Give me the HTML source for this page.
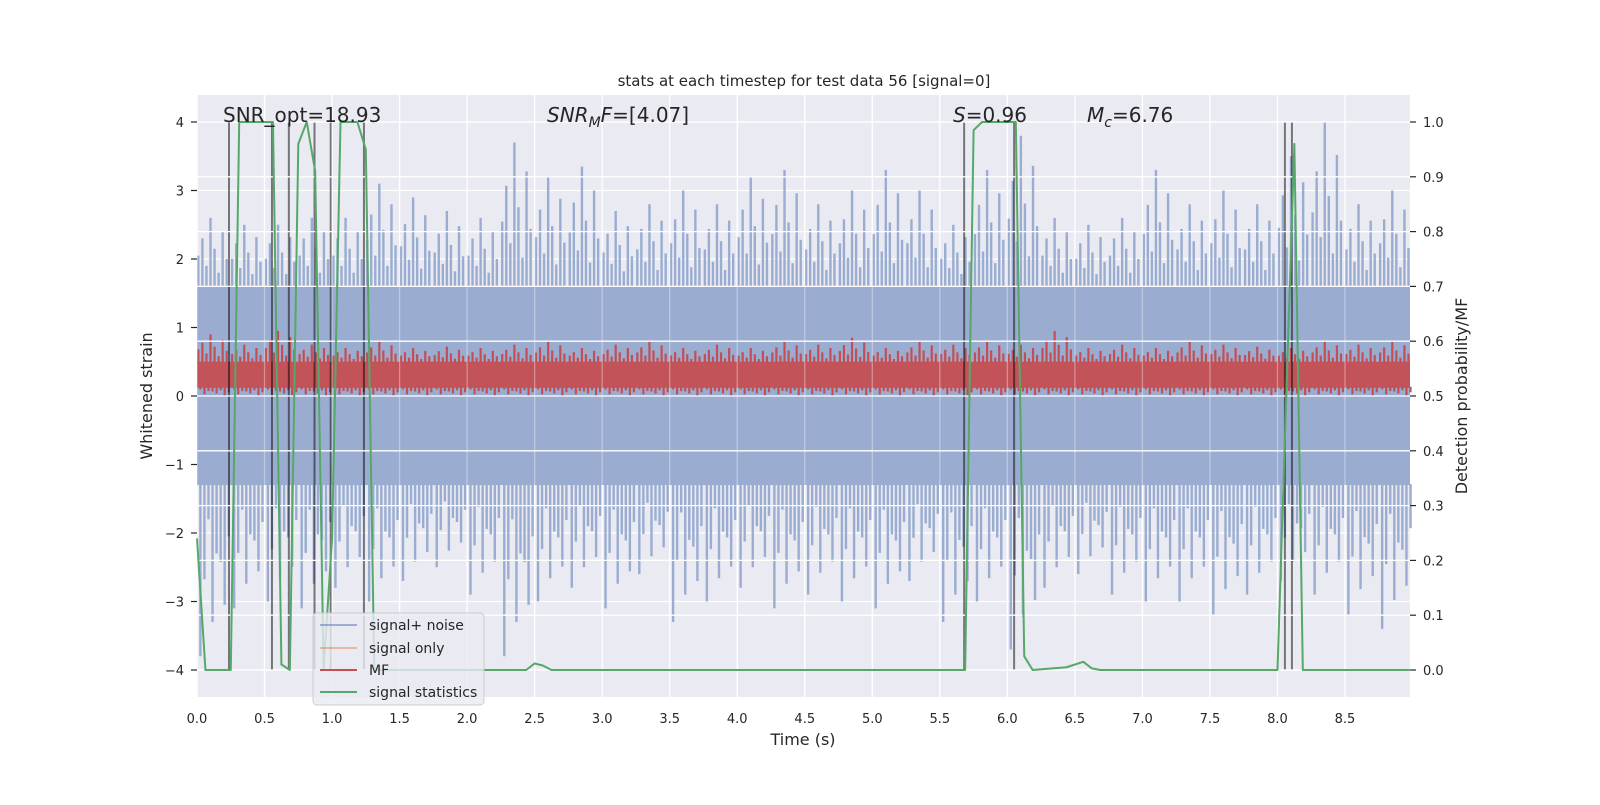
<!DOCTYPE html>
<html><head><meta charset="utf-8"><style>
body{margin:0;background:#fff;}
svg text{font-family:"DejaVu Sans","Liberation Sans",sans-serif;fill:#262626;}
</style></head><body>
<svg id="chart" width="1600" height="800" xmlns="http://www.w3.org/2000/svg">
<rect x="197" y="95" width="1213" height="602" fill="#eaeaf2"/>
<g id="gridL"></g>
<g id="noise"></g>
<g id="mf"></g>
<g id="vlines"></g>
<g id="gridR"></g>
<g id="stat"></g>
<g id="axes"></g>
<text x="804" y="86" font-size="15" text-anchor="middle">stats at each timestep for test data 56 [signal=0]</text>
<text x="223" y="122" font-size="20">SNR_opt=18.93</text>
<text x="547" y="122" font-size="20"><tspan font-style="italic">SNR</tspan><tspan font-style="italic" font-size="14" dy="5">M</tspan><tspan font-style="italic" dy="-5">F</tspan>=[4.07]</text>
<text x="953" y="122" font-size="20"><tspan font-style="italic">S</tspan>=0.96</text>
<text x="1087" y="122" font-size="20"><tspan font-style="italic">M</tspan><tspan font-style="italic" font-size="14" dy="5">c</tspan><tspan dy="-5">=6.76</tspan></text>
<text x="803" y="745" font-size="16" text-anchor="middle">Time (s)</text>
<text transform="translate(152,396) rotate(-90)" font-size="16" text-anchor="middle">Whitened strain</text>
<text transform="translate(1467,396) rotate(-90)" font-size="16" text-anchor="middle">Detection probability/MF</text>
<g>
<rect x="313" y="613" width="171" height="92" rx="4" fill="#eaeaf2" fill-opacity="0.8" stroke="#cccccc"/>
<line x1="320" y1="625" x2="357" y2="625" stroke="#4c72b0" stroke-opacity="0.5" stroke-width="2"/>
<text x="369" y="630" font-size="14">signal+ noise</text>
<line x1="320" y1="648" x2="357" y2="648" stroke="#dd8452" stroke-opacity="0.5" stroke-width="2"/>
<text x="369" y="653" font-size="14">signal only</text>
<line x1="320" y1="670" x2="357" y2="670" stroke="#c44e52" stroke-width="2"/>
<text x="369" y="675" font-size="14">MF</text>
<line x1="320" y1="692" x2="357" y2="692" stroke="#55a868" stroke-width="2"/>
<text x="369" y="697" font-size="14">signal statistics</text>
</g>
</svg>
<script>
const xTicks=[0,0.5,1,1.5,2,2.5,3,3.5,4,4.5,5,5.5,6,6.5,7,7.5,8,8.5];
const yTicks=[-4,-3,-2,-1,0,1,2,3,4];
const y2Ticks=[0,0.1,0.2,0.3,0.4,0.5,0.6,0.7,0.8,0.9,1.0];
const binStart=[0,0.25,0.5,0.75,1,1.25,1.5,1.75,2,2.25,2.5,2.75,3,3.25,3.5,3.75,4,4.25,4.5,4.75,5,5.25,5.5,5.75,6,6.25,6.5,6.75,7,7.25,7.5,7.75,8,8.25,8.5,8.75];
const noiseMax=[2.6,2.5,2.5,2.6,2.6,3.1,2.9,2.7,2.6,3.7,3.2,3.35,2.7,2.8,3.0,2.8,3.2,3.3,2.8,3.0,3.3,3.0,2.5,3.3,3.8,2.6,2.5,2.6,3.3,2.8,3.0,2.8,3.5,4.0,2.8,3.0];
const noiseMin=[-3.8,-3.1,-3.0,-3.1,-2.8,-3.0,-2.7,-2.5,-2.9,-3.8,-3.0,-2.8,-3.1,-2.6,-3.3,-3.0,-2.8,-3.1,-2.9,-3.0,-3.1,-2.7,-3.3,-3.0,-3.7,-2.8,-2.6,-2.9,-3.0,-3.0,-3.2,-2.9,-2.7,-2.9,-3.2,-3.4];
const mfMax=[0.9,0.75,0.95,0.75,0.7,0.8,0.7,0.72,0.7,0.75,0.8,0.7,0.75,0.8,0.7,0.75,0.7,0.8,0.75,0.85,0.7,0.8,0.75,0.8,0.75,0.95,0.7,0.75,0.7,0.8,0.75,0.72,0.7,0.8,0.75,0.8];
const statT=[0,0.0625,0.125,0.1875,0.25,0.3125,0.375,0.4375,0.5,0.5625,0.625,0.6875,0.75,0.8125,0.875,0.9375,1.0,1.0625,1.125,1.1875,1.25,1.3125,2.4375,2.5,2.5625,2.625,5.625,5.6875,5.75,5.8125,5.875,5.9375,6.0,6.0625,6.125,6.1875,6.4375,6.5625,6.625,6.6875,8.0,8.0625,8.125,8.1875,8.98];
const statP=[0.24,0,0,0,0,1.0,1.0,1.0,1.0,1.0,0.01,0,0.96,1.0,0.91,0,0.24,1.0,1.0,1.0,0.95,0,0,0.012,0.008,0,0,0,0.985,1.0,1.0,1.0,1.0,1.0,0.025,0,0.005,0.015,0.003,0,0,0.48,0.96,0,0];
const markT=[0.237,0.555,0.68,0.87,0.99,1.236,5.68,6.05,8.055,8.107];
const coreHi=1.6, coreLo=-1.3, mfCoreHi=0.5, mfCoreLo=0.12;
// rendering texture pattern (sub-line offsets within a bin and fraction of bin extreme)
const subOff=[0.01,0.04,0.07,0.1,0.13,0.16,0.19,0.22];
const subFrac=[0.45,0.7,0.3,1.0,0.55,0.2,0.8,0.4];
const NS="http://www.w3.org/2000/svg";
const X=t=>197+t*135.06, Y=v=>396-v*68.5, Y2=p=>670-p*548;
function mk(tag,attrs,parent){const e=document.createElementNS(NS,tag);for(const k in attrs)e.setAttribute(k,attrs[k]);document.getElementById(parent).appendChild(e);return e;}
const x0=197,x1=1410;
yTicks.forEach(v=>{const l=mk('line',{x1:x0,x2:x1,y1:Y(v),y2:Y(v),stroke:'#fff','stroke-width':1.3},'gridL');

});
xTicks.forEach(t=>{const l=mk('line',{x1:X(t),x2:X(t),y1:95,y2:697,stroke:'#fff','stroke-width':1.3},'gridL');

});
// noise
const core=mk('rect',{x:x0,y:Y(coreHi),width:x1-x0,height:Y(coreLo)-Y(coreHi),fill:'#9aadd1'},'noise');


binStart.forEach((t,i)=>{
 subOff.forEach((o,j)=>{
  const fu=subFrac[j], fd=subFrac[(j+3)%subFrac.length];
  const up=mk('line',{x1:X(t+o),x2:X(t+o),y1:Y(coreHi)+1,y2:Y(coreHi+(noiseMax[i]-coreHi)*fu),stroke:'#9aadd1','stroke-width':2.4},'noise');
  
  
  const dn=mk('line',{x1:X(t+o+0.015),x2:X(t+o+0.015),y1:Y(coreLo)-1,y2:Y(coreLo+(noiseMin[i]-coreLo)*fd),stroke:'#9aadd1','stroke-width':2.4},'noise');
  
  
 });
});
// MF
const mfc=mk('rect',{x:x0,y:Y(mfCoreHi),width:x1-x0,height:Y(mfCoreLo)-Y(mfCoreHi),fill:'#c44e52','fill-opacity':0.95},'mf');


binStart.forEach((t,i)=>{subOff.forEach((o,j)=>{
 const s=mk('line',{x1:X(t+o),x2:X(t+o),y1:Y(mfCoreHi)+1,y2:Y(mfCoreHi+(mfMax[i]-mfCoreHi)*subFrac[j]),stroke:'#c44e52','stroke-width':2.2},'mf');
 
 
 const d=mk('line',{x1:X(t+o+0.015),x2:X(t+o+0.015),y1:Y(mfCoreLo)-1,y2:Y(mfCoreLo*(1-subFrac[(j+5)%8])),stroke:'#c44e52','stroke-width':2.2},'mf');
 
 });});
// markers
markT.forEach(t=>{const l=mk('line',{x1:X(t),x2:X(t),y1:Y(4),y2:Y(-4),stroke:'#000','stroke-opacity':0.5,'stroke-width':2},'vlines');

});
// right grid
y2Ticks.forEach(p=>{const l=mk('line',{x1:x0,x2:x1,y1:Y2(p),y2:Y2(p),stroke:'#fff','stroke-width':1.3},'gridR');

});
xTicks.forEach(t=>{const l=mk('line',{x1:X(t),x2:X(t),y1:95,y2:697,stroke:'#fff','stroke-opacity':0.35,'stroke-width':1.3},'gridR');

});
// stats
const pl=mk('polyline',{points:statT.map((t,i)=>X(t)+','+Y2(statP[i])).join(' '),fill:'none',stroke:'#55a868','stroke-width':2,'stroke-linejoin':'round'},'stat');


// ticks
xTicks.forEach(t=>{const tx=mk('text',{x:X(t),y:723,'font-size':13,'text-anchor':'middle'},'axes');tx.textContent=t.toFixed(1);

});
yTicks.forEach(v=>{const tx=mk('text',{x:184,y:Y(v)+5,'font-size':13,'text-anchor':'end'},'axes');tx.textContent=v<0?'\u2212'+(-v):String(v);


const tk=mk('line',{x1:191,x2:197,y1:Y(v),y2:Y(v),stroke:'#262626','stroke-width':1.2},'axes');

});
y2Ticks.forEach(p=>{const tx=mk('text',{x:1423,y:Y2(p)+5,'font-size':13},'axes');tx.textContent=p.toFixed(1);


const tk=mk('line',{x1:1410,x2:1416,y1:Y2(p),y2:Y2(p),stroke:'#262626','stroke-width':1.2},'axes');

});
</script>
</body></html>
